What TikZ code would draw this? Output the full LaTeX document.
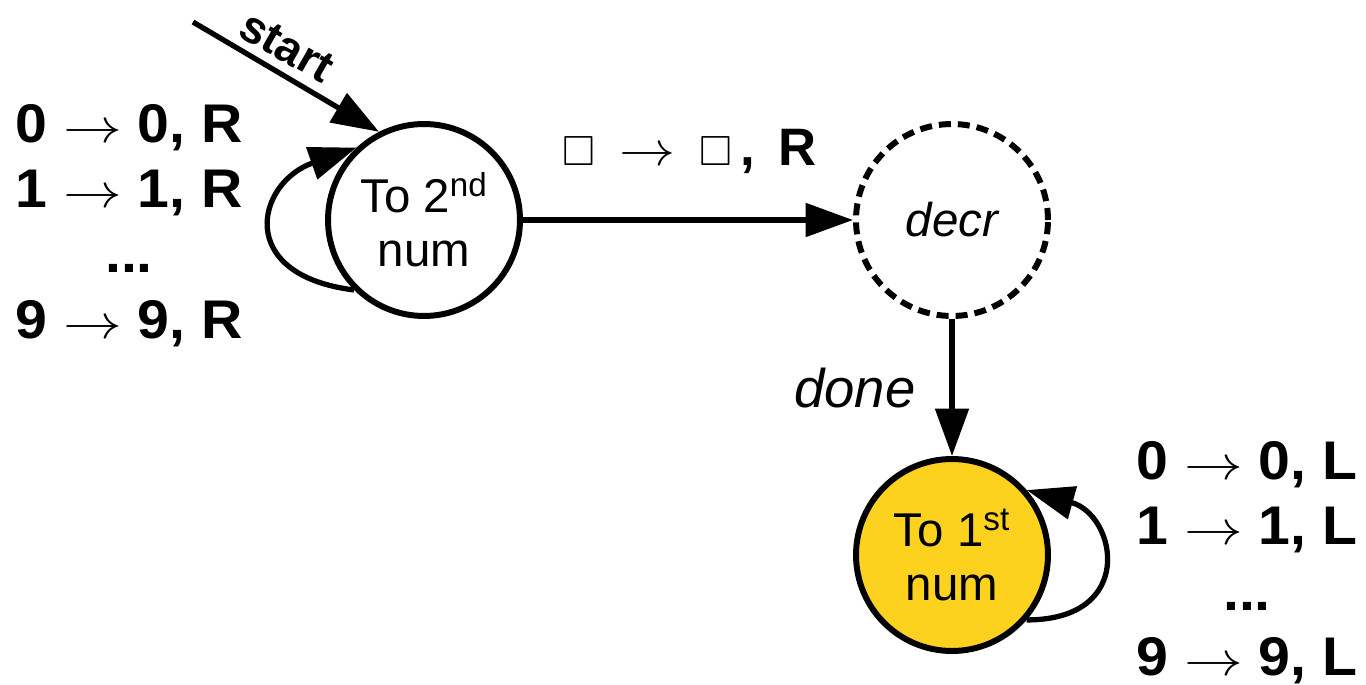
\documentclass[tikz,border=0pt]{standalone}
\usepackage{amssymb}
\usepackage{graphicx}
\usepackage{fontspec}
\setmainfont{Liberation Sans}
\usetikzlibrary{arrows.meta}

\definecolor{statefill}{RGB}{253,210,31}
\newcommand{\stretchrule}[1]{\scalebox{1.05}[1]{#1}}
\newcommand{\blanksym}{{\fontsize{24}{28}\selectfont$\square$}}
\newcommand{\longto}{\scalebox{1.28}[1.1]{$\rightarrow$}}

\begin{document}
\begin{tikzpicture}[x=.02cm, y=-.02cm,
  every node/.style={inner sep=0pt},
  state/.style={circle, draw, line width=3.4pt, minimum size=3.84cm, align=center,
    font=\fontsize{27}{31}\selectfont},
  edge/.style={line width=3pt, -{Triangle[length=.95cm, width=.66cm]}},
  rule/.style={anchor=base, font=\fontsize{31}{36}\selectfont\bfseries}]
  \useasboundingbox (0,0) rectangle (1366,685);

  \node[state] (second) at (424,220) {To 2\textsuperscript{nd}\\num};
  \node[state, dash pattern=on .24cm off .14cm] (decr) at (952,220) {\itshape decr};
  \node[state, fill=statefill] (first) at (952,555) {To 1\textsuperscript{st}\\num};

  \coordinate (S) at (193,22);

  \draw[edge] (S) -- (second.117);
  \draw[edge] (second) -- (decr);
  \draw[edge] (decr) -- (first);
  \draw[edge] (second.225) .. controls +(-120,-15) and +(-100,35) .. (second.133);
  \draw[edge] (first.-41) .. controls +(110,0) and +(90,25) .. (first.41);

  \node[rotate=-29.8, font=\fontsize{26}{30}\selectfont\bfseries] (startlbl) at (287,47) {start};
  \node[anchor=base, font=\fontsize{30}{34}\selectfont\bfseries] (blanklbl) at (690,166)
    {\blanksym\hspace{.45em}\longto\hspace{.45em}\blanksym\,,\hspace{.45em}R};
  \node[font=\fontsize{31}{36}\selectfont\itshape] (donelbl) at (855,388) {done};

  \node[rule] (r0)    at (129,143) {\stretchrule{0 \longto\ 0, R}};
  \node[rule] (r1)    at (129,208) {\stretchrule{1 \longto\ 1, R}};
  \node[rule] (rdots) at (129,273) {\stretchrule{...}};
  \node[rule] (r9)    at (129,339) {\stretchrule{9 \longto\ 9, R}};

  \node[rule] (l0)    at (1247,480) {\stretchrule{0 \longto\ 0, L}};
  \node[rule] (l1)    at (1247,545) {\stretchrule{1 \longto\ 1, L}};
  \node[rule] (ldots) at (1247,610) {\stretchrule{...}};
  \node[rule] (l9)    at (1247,675) {\stretchrule{9 \longto\ 9, L}};
\end{tikzpicture}
\end{document}
